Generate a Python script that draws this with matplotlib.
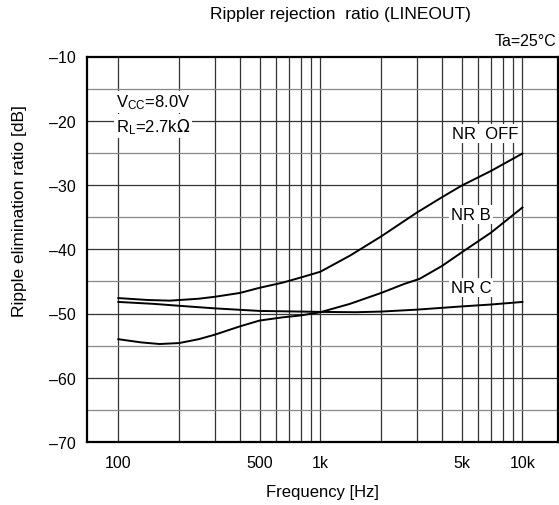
import matplotlib
matplotlib.use("Agg")
import matplotlib.pyplot as plt
from matplotlib.ticker import FixedLocator, NullFormatter

plt.rcParams['font.family'] = ['Liberation Sans', 'DejaVu Sans']

f_off = [100, 140, 180, 250, 300, 400, 500, 650, 800, 1000, 1400, 2000, 3000, 4000, 5000, 7000, 10000]
nr_off = [-47.6, -47.9, -48.0, -47.7, -47.4, -46.8, -46.0, -45.2, -44.4, -43.5, -41.0, -38.0, -34.3, -31.9, -30.1, -27.8, -25.1]

f_b = [100, 130, 160, 200, 250, 300, 400, 500, 650, 800, 1000, 1400, 2000, 2600, 3100, 4000, 5000, 7000, 10000]
nr_b = [-54.0, -54.5, -54.75, -54.6, -54.0, -53.3, -52.0, -51.1, -50.6, -50.3, -49.8, -48.5, -46.8, -45.4, -44.6, -42.6, -40.5, -37.4, -33.5]

f_c = [100, 150, 200, 300, 500, 800, 1000, 1500, 2000, 3000, 5000, 7000, 10000]
nr_c = [-48.2, -48.5, -48.8, -49.2, -49.6, -49.7, -49.75, -49.8, -49.7, -49.4, -48.9, -48.6, -48.2]

xticks = [100, 500, 1000, 5000, 10000]
xticklabels = ['100', '500', '1k', '5k', '10k']
yticks = [-10, -20, -30, -40, -50, -60, -70]

fig = plt.figure(figsize=(5.59, 5.06), dpi=100)
ax = fig.add_axes([87 / 559, 1 - 443 / 506, 471 / 559, 385.5 / 506])

ax.set_xscale('log')
ax.set_xlim(70, 15000)
ax.set_ylim(-70, -10)

# grid
minor_x = [m * d for d in (100, 1000) for m in range(2, 10)]
for x in [100, 1000, 10000] + minor_x:
    ax.axvline(x, color='#333333', lw=0.9, zorder=1)
for y in range(-65, -10, 5):
    ax.axhline(y, color='#333333' if y % 10 == 0 else '#888888', lw=0.9, zorder=1)

ax.plot(f_off, nr_off, color='black', lw=1.4, zorder=3)
ax.plot(f_b, nr_b, color='black', lw=1.4, zorder=3)
ax.plot(f_c, nr_c, color='black', lw=1.4, zorder=3)

ax.xaxis.set_major_locator(FixedLocator(xticks))
ax.set_xticklabels(xticklabels)
ax.xaxis.set_minor_formatter(NullFormatter())
ax.set_yticks(yticks)
ax.set_yticklabels(['\u201310', '\u201320', '\u201330', '\u201340', '\u201350', '\u201360', '\u201370'])
ax.tick_params(which='both', length=0, labelsize=11.5)
ax.tick_params(axis='y', pad=8)
ax.tick_params(axis='x', pad=9)

for s in ax.spines.values():
    s.set_linewidth(1.6)
    s.set_zorder(4)

box = dict(facecolor='white', edgecolor='none', pad=1.5)
ax.text(97, -17.1, r'V$\mathregular{_{CC}}$=8.0V', fontsize=12, va='center', ha='left', bbox=box, zorder=5)
ax.text(97, -20.8, r'R$\mathregular{_{L}}$=2.7k$\Omega$', fontsize=12, va='center', ha='left', bbox=box, zorder=5)
ax.text(6560, -22.0, 'NR  OFF', fontsize=12, ha='center', va='center', bbox=box, zorder=5)
ax.text(5570, -34.6, 'NR B', fontsize=12, ha='center', va='center', bbox=box, zorder=5)
ax.text(5570, -46.0, 'NR C', fontsize=12, ha='center', va='center', bbox=box, zorder=5)

fig.text(340 / 559, 1 - 14 / 506, 'Rippler rejection  ratio (LINEOUT)', fontsize=12.5, ha='center', va='center')
fig.text(556 / 559, 1 - 42 / 506, 'Ta=25°C', fontsize=11.5, ha='right', va='center')
fig.text(322 / 559, 1 - 493 / 506, 'Frequency [Hz]', fontsize=12, ha='center', va='center')
fig.text(20 / 559, 1 - 211 / 506, 'Ripple elimination ratio [dB]', fontsize=12.5, ha='center', va='center', rotation=90)

fig.savefig('out.png', dpi=100)
